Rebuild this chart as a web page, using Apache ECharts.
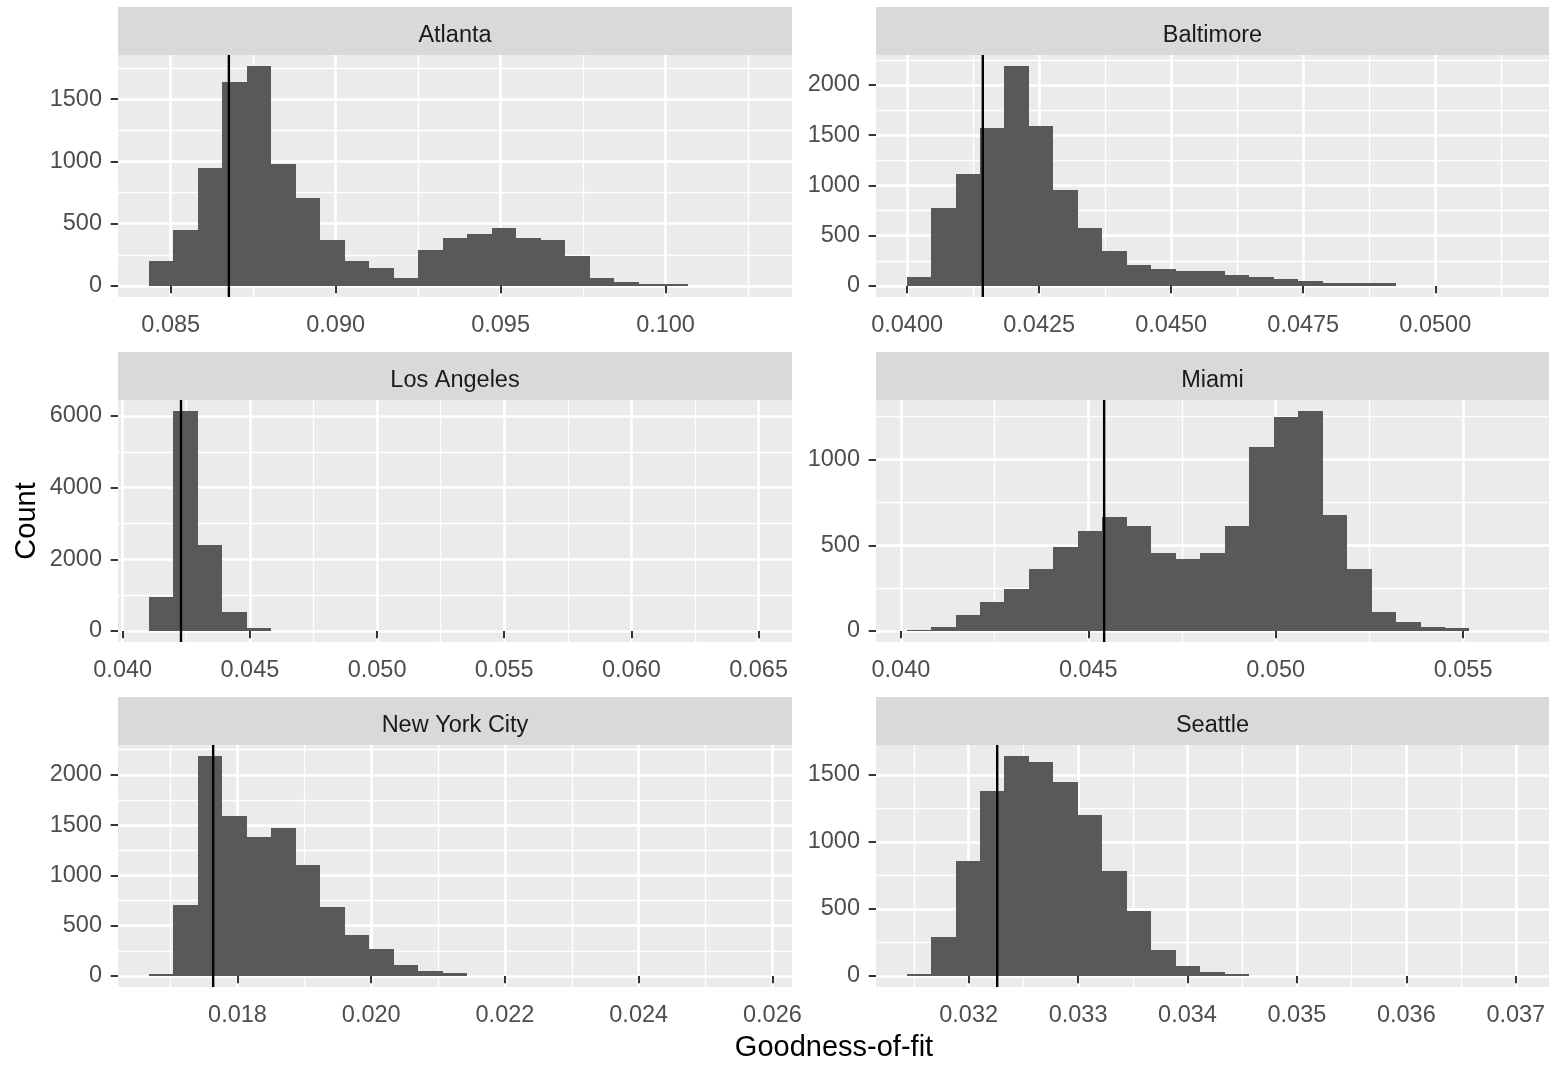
<!DOCTYPE html>
<html>
<head>
<meta charset="utf-8">
<title>Goodness-of-fit histograms</title>
<script src="https://cdn.jsdelivr.net/npm/echarts@6/dist/echarts.min.js"></script>
<style>
  html, body { margin: 0; padding: 0; background: #ffffff; }
  #chart { width: 1551px; height: 1065px; }
</style>
</head>
<body>
<div id="chart"></div>
<script>
// ---- data -------------------------------------------------------------
const cities = ['Atlanta', 'Baltimore', 'Los Angeles', 'Miami', 'New York City', 'Seattle'];

// left edge of the first bin and the bin width (25 bins per city)
const binStart = [0.08433, 0.03999, 0.04102, 0.040152, 0.016671, 0.031433];
const binWidth = [0.000743, 0.00046335, 0.0009636, 0.000653, 0.00036655, 0.00022364];

const atlantaCounts   = [198, 451, 948, 1639, 1767, 980, 707, 371, 198, 147, 67, 291, 387, 419, 467, 387, 371, 243, 67, 35, 19, 19, 2, 1, 1];
const baltimoreCounts = [86, 779, 1115, 1571, 2188, 1591, 957, 581, 350, 205, 168, 149, 149, 106, 86, 66, 46, 26, 26, 26, 2, 1, 1, 0, 1];
const losAngelesCounts = [955, 6138, 2411, 528, 74, 3, 1, 0, 0, 0, 0, 0, 0, 0, 0, 0, 0, 0, 0, 0, 0, 0, 0, 0, 1];
const miamiCounts     = [3, 23, 93, 167, 247, 363, 491, 584, 666, 610, 456, 421, 456, 610, 1074, 1249, 1283, 678, 363, 109, 50, 25, 16, 1, 1];
const newYorkCounts   = [20, 707, 2187, 1590, 1383, 1467, 1107, 687, 407, 267, 110, 47, 27, 2, 1, 0, 0, 0, 0, 0, 0, 0, 0, 0, 1];
const seattleCounts   = [15, 288, 858, 1382, 1641, 1596, 1445, 1204, 783, 482, 196, 75, 30, 15, 1, 1, 0, 0, 0, 0, 0, 0, 0, 0, 1];

// observed goodness-of-fit for each city (vertical reference line)
const observedFit = [0.086762, 0.041433, 0.042292, 0.045423, 0.017636, 0.032261];

// tick labels
const atlantaXTicks    = ['0.085', '0.090', '0.095', '0.100'];
const baltimoreXTicks  = ['0.0400', '0.0425', '0.0450', '0.0475', '0.0500'];
const losAngelesXTicks = ['0.040', '0.045', '0.050', '0.055', '0.060', '0.065'];
const miamiXTicks      = ['0.040', '0.045', '0.050', '0.055'];
const newYorkXTicks    = ['0.018', '0.020', '0.022', '0.024', '0.026'];
const seattleXTicks    = ['0.032', '0.033', '0.034', '0.035', '0.036', '0.037'];

const atlantaYTicks    = [0, 500, 1000, 1500];
const baltimoreYTicks  = [0, 500, 1000, 1500, 2000];
const losAngelesYTicks = [0, 2000, 4000, 6000];
const miamiYTicks      = [0, 500, 1000];
const newYorkYTicks    = [0, 500, 1000, 1500, 2000];
const seattleYTicks    = [0, 500, 1000, 1500];

const countsByCity = [atlantaCounts, baltimoreCounts, losAngelesCounts, miamiCounts, newYorkCounts, seattleCounts];
const xTicksByCity = [atlantaXTicks, baltimoreXTicks, losAngelesXTicks, miamiXTicks, newYorkXTicks, seattleXTicks];
const yTicksByCity = [atlantaYTicks, baltimoreYTicks, losAngelesYTicks, miamiYTicks, newYorkYTicks, seattleYTicks];

// ---- layout & style ---------------------------------------------------
const FONT = 'Liberation Sans, Arial, Helvetica, sans-serif';
const colLeft = [118, 876];
const colWidth = [674, 673];
const stripTop = [7, 352, 697];
const STRIP_H = 48;
const PLOT_H = 242;

const PANEL_BG = '#EBEBEB';
const STRIP_BG = '#D9D9D9';
const BAR_FILL = '#595959';

// midpoints between breaks, one step beyond each end, kept inside the limits
function minorBreaks(major, lo, hi) {
  const step = major[1] - major[0];
  const out = [];
  for (let k = -1; k < major.length; k++) {
    const v = major[0] + (k + 0.5) * step;
    if (v > lo && v < hi) out.push(v);
  }
  return out;
}

// expand a continuous range by 5% on each side
function expand(lo, hi) {
  const d = (hi - lo) * 0.05;
  return [lo - d, hi + d];
}

// histogram bar, snapped to whole pixels so neighbouring bars meet cleanly
function renderBin(params, api) {
  const p0 = api.coord([api.value(0), api.value(2)]);
  const p1 = api.coord([api.value(1), 0]);
  const x0 = Math.round(p0[0]), x1 = Math.round(p1[0]);
  const y0 = Math.round(p0[1]), y1 = Math.round(p1[1]);
  return {
    type: 'rect',
    shape: { x: x0, y: y0, width: x1 - x0, height: y1 - y0 },
    style: { fill: BAR_FILL }
  };
}

function renderRefLine(params, api) {
  const x = api.coord([api.value(0), 0])[0];
  const cs = params.coordSys;
  return {
    type: 'line',
    shape: { x1: x, y1: cs.y, x2: x, y2: cs.y + cs.height },
    style: { stroke: '#000000', lineWidth: 2.4 }
  };
}

const grids = [], xAxes = [], yAxes = [], series = [], graphics = [];

cities.forEach(function (city, i) {
  const col = i % 2, row = Math.floor(i / 2);
  const left = colLeft[col], width = colWidth[col];
  const top = stripTop[row] + STRIP_H;

  const counts = countsByCity[i];
  const w = binWidth[i];
  const bins = counts.map(function (c, k) {
    return [binStart[i] + k * w, binStart[i] + (k + 1) * w, c];
  });

  const xr = expand(binStart[i], binStart[i] + counts.length * w);
  const yr = expand(0, Math.max.apply(null, counts));

  const xLabels = xTicksByCity[i];
  const xMajor = xLabels.map(Number);
  const yMajor = yTicksByCity[i];

  grids.push({
    left: left, top: top, width: width, height: PLOT_H,
    show: true, backgroundColor: PANEL_BG, borderWidth: 0,
    containLabel: false, outerBoundsMode: 'none'
  });

  // major axes: ticks, labels and thick grid lines
  xAxes.push({
    type: 'value', gridIndex: i, min: xr[0], max: xr[1], position: 'bottom',
    axisLine: { show: false },
    axisTick: { show: true, customValues: xMajor, length: 7.3, lineStyle: { color: '#333333', width: 2 } },
    axisLabel: {
      customValues: xMajor, margin: 17, color: '#4D4D4D', fontSize: 23.5, fontFamily: FONT,
      formatter: function (v) {
        for (let k = 0; k < xMajor.length; k++) if (Math.abs(xMajor[k] - v) < 1e-9) return xLabels[k];
        return '';
      }
    },
    splitLine: { show: true, lineStyle: { color: '#FFFFFF', width: 2.6 } }
  });
  yAxes.push({
    type: 'value', gridIndex: i, min: yr[0], max: yr[1], position: 'left',
    axisLine: { show: false },
    axisTick: { show: true, customValues: yMajor, length: 7.3, lineStyle: { color: '#333333', width: 2 } },
    axisLabel: {
      customValues: yMajor, margin: 16, color: '#4D4D4D', fontSize: 23.5, fontFamily: FONT,
      formatter: function (v) { return String(Math.round(v)); }
    },
    splitLine: { show: true, lineStyle: { color: '#FFFFFF', width: 2.6 } }
  });

  // minor axes: only the thin grid lines
  xAxes.push({
    type: 'value', gridIndex: i, min: xr[0], max: xr[1], position: 'top',
    axisLine: { show: false }, axisLabel: { show: false },
    axisTick: { show: false, customValues: minorBreaks(xMajor, xr[0], xr[1]) },
    splitLine: { show: true, lineStyle: { color: '#FFFFFF', width: 1.3 } }
  });
  yAxes.push({
    type: 'value', gridIndex: i, min: yr[0], max: yr[1], position: 'right',
    axisLine: { show: false }, axisLabel: { show: false },
    axisTick: { show: false, customValues: minorBreaks(yMajor, yr[0], yr[1]) },
    splitLine: { show: true, lineStyle: { color: '#FFFFFF', width: 1.3 } }
  });

  series.push({
    type: 'custom', name: city,
    xAxisIndex: 2 * i, yAxisIndex: 2 * i,
    data: bins,
    encode: { x: [0, 1], y: 2 },
    renderItem: renderBin,
    z: 3
  });
  series.push({
    type: 'custom', name: city + ' observed',
    xAxisIndex: 2 * i, yAxisIndex: 2 * i,
    data: [[observedFit[i], 0]],
    encode: { x: 0, y: 1 },
    renderItem: renderRefLine,
    z: 4
  });

  // facet strip
  graphics.push({
    type: 'rect', silent: true,
    shape: { x: left, y: stripTop[row], width: width, height: STRIP_H },
    style: { fill: STRIP_BG }
  });
  graphics.push({
    type: 'text', silent: true,
    x: left + width / 2, y: stripTop[row] + 28.5,
    style: { text: city, fill: '#1A1A1A', fontSize: 23.5, fontFamily: FONT, align: 'center', verticalAlign: 'middle' }
  });
});

// axis titles
graphics.push({
  type: 'text', silent: true, x: 834, y: 1048,
  style: { text: 'Goodness-of-fit', fill: '#000000', fontSize: 29, fontFamily: FONT, align: 'center', verticalAlign: 'middle' }
});
graphics.push({
  type: 'text', silent: true, x: 27, y: 521, rotation: Math.PI / 2,
  style: { text: 'Count', fill: '#000000', fontSize: 29, fontFamily: FONT, align: 'center', verticalAlign: 'middle' }
});

const chart = echarts.init(document.getElementById('chart'), null, { renderer: 'canvas' });
chart.setOption({
  animation: false,
  backgroundColor: '#FFFFFF',
  grid: grids,
  xAxis: xAxes,
  yAxis: yAxes,
  series: series,
  graphic: graphics
});
</script>
</body>
</html>
